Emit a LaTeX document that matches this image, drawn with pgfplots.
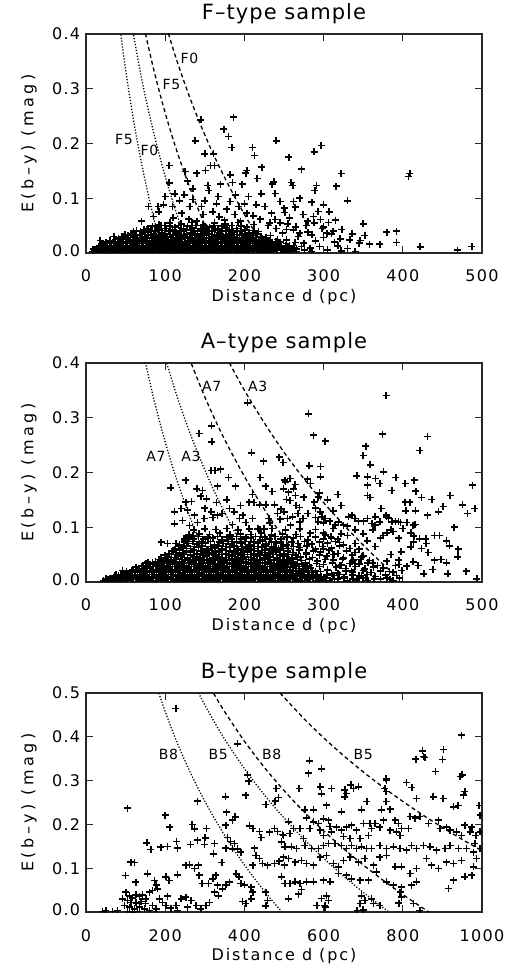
\documentclass[border=0pt]{standalone}
\usepackage{fontspec}
\setmainfont{DejaVu Sans}[LetterSpace=8]
\newfontfamily\xlabfont{DejaVu Sans}[LetterSpace=12]
\newfontfamily\ylabfont{DejaVu Sans}[LetterSpace=22]
\newfontfamily\titfont{DejaVu Sans}[LetterSpace=5]
\usepackage{pgfplots}
\pgfplotsset{compat=1.18}
\newcommand\fs{\fontsize{16}{18}\selectfont}
\newcommand\lo[1]{\raisebox{4pt}{#1}}
\newcommand\hi[1]{\raisebox{-7pt}{#1}}
\tikzset{lab/.style={font=\titfont\fontsize{14}{16}\selectfont, inner sep=0pt}}
\pgfplotsset{
  idl/.style={
    width=396pt, height=219pt, scale only axis,
    xmin=0, ymin=0,
    tick align=inside, major tick length=7pt,
    axis line style={line width=1.3pt, black!85},
    every tick/.style={line width=1.2pt, black!85},
    ticklabel style={font=\fs},
    xticklabel style={anchor=base, yshift=-29pt},
    yticklabel style={anchor=east, xshift=-2.4pt},
    xlabel style={at={(axis description cs:0.5,-0.2237)}, anchor=base, font=\xlabfont\fontsize{16}{18}\selectfont},
    ylabel style={at={(axis description cs:-0.1331,0.5)}, anchor=base, font=\ylabfont\fontsize{16}{18}\selectfont},
    title style={at={(axis description cs:0.5,1.041)}, anchor=base, font=\titfont\fontsize{21}{24}\selectfont},
    xlabel={Distance d (pc)},
    ylabel={E(b–y) (mag)},
    clip marker paths=true,
  },
  pts/.style={only marks, mark=+, mark size=3.5pt, black, line width=1.6pt},
  dotc/.style={no marks, smooth, black, line width=1.3pt, dash pattern=on 1.2pt off 1.8pt},
  dashc/.style={no marks, smooth, black, line width=1.3pt, dash pattern=on 4pt off 3pt},
}
\begin{document}
\begin{tikzpicture}
% ---------------- F-type ----------------
\begin{axis}[idl, at={(0,0)}, anchor=north west,
  xmax=500, ymax=0.4, title={F–type sample},
  xtick={0,100,200,300,400,500}, xticklabels={0,100,200,300,400,500},
  ytick={0,0.1,0.2,0.3,0.4}, yticklabels={\lo{0.0},0.1,0.2,0.3,\hi{0.4}}]
\addplot[dotc] coordinates {(44,0.399)(50,0.335)(60,0.2426)(70,0.1648)(80,0.0973)(90,0.0378)(97,0)};
\addplot[dotc] coordinates {(60,0.398)(70,0.320)(80,0.253)(90,0.1934)(100,0.140)(110,0.0921)(120,0.0481)(132,0)};
\addplot[dashc] coordinates {(75,0.401)(85,0.338)(95,0.282)(105,0.231)(115,0.185)(125,0.1433)(135,0.1044)(145,0.0683)(155,0.0346)(166,0)};
\addplot[dashc] coordinates {(104,0.401)(115,0.350)(130,0.288)(145,0.233)(160,0.183)(175,0.138)(190,0.0965)(205,0.0581)(218,0.027)(230,0)};
\addplot[pts] coordinates {
(8,.003)(13,.005)(18,.002)(23,.004)(28,.003)(33,.005)(38,.002)(43,.004)(48,.003)(53,.005)(58,.002)(63,.004)(68,.003)(73,.005)(78,.002)(83,.004)(88,.003)(93,.005)(98,.002)(103,.004)(108,.003)(113,.005)(118,.002)(123,.004)(128,.003)(133,.005)(138,.002)(143,.004)(148,.003)(153,.005)(158,.002)(163,.004)(168,.003)(173,.005)(178,.002)(183,.004)(188,.003)(193,.005)(198,.002)(204,.004)(210,.003)(216,.005)(222,.002)(228,.004)(235,.003)(242,.005)(250,.002)(258,.004)(266,.003)(276,.005)
(11,.006)(16,.007)(21,.006)(26,.007)(31,.006)(36,.007)(41,.006)(46,.007)(51,.006)(56,.007)(61,.006)(66,.007)(71,.006)(76,.007)(81,.006)(86,.007)(91,.006)(96,.007)(101,.006)(106,.007)(111,.006)(116,.007)(121,.006)(126,.007)(131,.006)(136,.007)(141,.006)(146,.007)(151,.006)(156,.007)(161,.006)(166,.007)(171,.006)(176,.007)(181,.006)(186,.007)(191,.006)(196,.007)(201,.006)(206,.007)(211,.006)(216,.007)(221,.006)(226,.007)(231,.006)(236,.007)(241,.006)(246,.007)(251,.006)(256,.007)(261,.006)(266,.007)
(15,.009)(20,.011)(25,.010)(30,.012)(35,.009)(40,.011)(45,.010)(50,.012)(55,.009)(60,.011)(65,.010)(70,.012)(75,.009)(80,.011)(85,.010)(90,.012)(95,.009)(100,.011)(105,.010)(110,.012)(115,.009)(120,.011)(125,.010)(130,.012)(135,.009)(140,.011)(145,.010)(150,.012)(155,.009)(160,.011)(165,.010)(170,.012)(175,.009)(180,.011)(185,.010)(190,.012)(195,.009)(200,.011)(206,.010)(212,.012)(218,.009)(225,.011)(232,.010)(239,.012)(247,.009)(255,.011)(263,.010)(272,.012)(283,.009)
(17,.013)(22,.014)(27,.013)(32,.014)(37,.013)(42,.014)(47,.013)(52,.014)(57,.013)(62,.014)(67,.013)(72,.014)(77,.013)(82,.014)(87,.013)(92,.014)(97,.013)(102,.014)(107,.013)(112,.014)(117,.013)(122,.014)(127,.013)(132,.014)(137,.013)(142,.014)(147,.013)(152,.014)(157,.013)(162,.014)(167,.013)(172,.014)(177,.013)(182,.014)(187,.013)(192,.014)(197,.013)(202,.014)(207,.013)(212,.014)(217,.013)(222,.014)(227,.013)(232,.014)(237,.013)(242,.014)(247,.013)(252,.014)(257,.013)(262,.014)
(20,.016)(26,.018)(32,.017)(37,.019)(42,.016)(47,.018)(52,.017)(57,.019)(62,.016)(67,.018)(72,.017)(77,.019)(82,.016)(87,.018)(92,.017)(97,.019)(102,.016)(107,.018)(112,.017)(117,.019)(122,.016)(127,.018)(132,.017)(137,.019)(142,.016)(147,.018)(152,.017)(157,.019)(162,.016)(167,.018)(172,.017)(177,.019)(182,.016)(187,.018)(192,.017)(198,.019)(204,.016)(211,.018)(218,.017)(226,.019)(234,.016)(243,.018)(253,.017)(264,.019)
(25,.020)(30,.021)(35,.020)(40,.021)(45,.020)(50,.021)(55,.020)(60,.021)(65,.020)(70,.021)(75,.020)(80,.021)(85,.020)(90,.021)(95,.020)(100,.021)(105,.020)(110,.021)(115,.020)(120,.021)(125,.020)(130,.021)(135,.020)(140,.021)(145,.020)(150,.021)(155,.020)(160,.021)(165,.020)(170,.021)(175,.020)(180,.021)(185,.020)(190,.021)(195,.020)(200,.021)(205,.020)(210,.021)(215,.020)(220,.021)(225,.020)(230,.021)(235,.020)(240,.021)(245,.020)
(30,.023)(37,.025)(44,.024)(50,.026)(56,.023)(62,.025)(68,.024)(74,.026)(80,.023)(86,.025)(92,.024)(98,.026)(104,.023)(110,.025)(116,.024)(122,.026)(128,.023)(134,.025)(140,.024)(146,.026)(152,.023)(158,.025)(164,.024)(170,.026)(176,.023)(182,.025)(188,.024)(194,.026)(200,.023)(207,.025)(215,.024)(223,.026)(232,.023)(242,.025)(253,.024)
(41,.027)(47,.028)(53,.027)(59,.028)(65,.027)(71,.028)(77,.027)(83,.028)(89,.027)(95,.028)(101,.027)(107,.028)(113,.027)(119,.028)(125,.027)(131,.028)(137,.027)(143,.028)(149,.027)(155,.028)(161,.027)(167,.028)(173,.027)(179,.028)(185,.027)(191,.028)(197,.027)(203,.028)(209,.027)(215,.028)(221,.027)(227,.028)
(45,.030)(53,.032)(61,.031)(68,.033)(75,.030)(82,.032)(89,.031)(96,.033)(103,.030)(110,.032)(117,.031)(124,.033)(131,.030)(138,.032)(145,.031)(152,.033)(159,.030)(166,.032)(173,.031)(180,.033)(187,.030)(194,.032)(202,.031)(211,.033)(221,.030)(233,.032)
(49,.034)(57,.035)(64,.034)(71,.035)(78,.034)(85,.035)(92,.034)(99,.035)(106,.034)(113,.035)(120,.034)(127,.035)(134,.034)(141,.035)(148,.034)(155,.035)(162,.034)(169,.035)(176,.034)(183,.035)(190,.034)(197,.035)(206,.034)(216,.035)
(60,.037)(69,.039)(78,.038)(87,.040)(96,.037)(105,.039)(114,.038)(123,.040)(132,.037)(141,.039)(150,.038)(159,.040)(168,.037)(177,.039)(186,.038)(196,.040)(206,.037)(218,.039)
(64,.041)(73,.042)(82,.041)(91,.042)(100,.041)(109,.042)(118,.041)(127,.042)(136,.041)(145,.042)(154,.041)(163,.042)(172,.041)(181,.042)(191,.041)(201,.042)(212,.041)
(78,.044)(90,.046)(101,.045)(112,.047)(123,.044)(134,.046)(145,.045)(156,.047)(167,.044)(178,.046)(190,.045)(203,.047)
(84,.049)(95,.050)(106,.049)(117,.050)(128,.049)(139,.050)(150,.049)(161,.050)(172,.049)(184,.050)(196,.049)
(92,.052)(106,.055)(120,.053)(134,.056)(148,.052)(162,.055)(176,.053)(192,.056)(212,.052)(232,.055)(255,.053)(278,.050)
(285,.003)(295,.012)(305,.006)(314,.020)(322,.004)(300,.028)(290,.022)(275,.018)(268,.030)(280,.038)(262,.042)(248,.036)(240,.045)(310,.035)(318,.013)(330,.008)(340,.003)(345,.018)(298,.045)(288,.055)
(145,.243)(186,.248)(174,.226)(138,.205)(180,.213)(184,.193)(240,.205)(210,.193)(256,.175)(288,.185)(297,.196)(150,.181)(161,.181)(213,.178)(272,.153)(222,.157)(203,.151)(202,.146)(162,.160)(157,.160)(125,.149)(140,.146)(151,.151)(105,.160)(407,.140)(409,.145)(322,.145)(291,.123)(289,.114)(316,.122)(330,.095)(285,.093)(293,.076)(307,.075)(237,.130)(235,.126)(259,.129)(261,.123)(216,.136)(197,.126)(182,.143)(185,.129)(170,.126)(154,.123)(135,.117)(128,.131)(105,.128)(100,.103)(112,.108)(124,.106)(155,.114)(167,.103)(189,.106)(205,.103)(221,.108)(239,.109)(245,.094)(262,.094)(264,.084)(226,.085)(215,.088)(193,.085)(182,.094)(146,.085)(131,.085)(109,.085)(79,.085)(91,.085)(98,.088)
(350,.053)(380,.038)(392,.040)(392,.019)(352,.032)(358,.016)(371,.016)(422,.011)(487,.012)(469,.005)(336,.035)(323,.043)(312,.040)(306,.056)(296,.061)(287,.067)(274,.070)(257,.064)(251,.074)(239,.061)(234,.073)(211,.068)(203,.073)(188,.070)(168,.066)(148,.070)(121,.073)(110,.064)(85,.067)(70,.058)(77,.043)(60,.040)(47,.030)(35,.030)(18,.023)(9,.007)(333,.024)(346,.023)(321,.026)(304,.036)(285,.033)(270,.036)(253,.043)
(130,.062)(140,.058)(160,.075)(175,.060)(195,.058)(220,.062)(230,.050)(245,.055)(265,.048)(280,.058)(300,.048)(315,.060)(118,.095)(135,.098)(178,.080)(200,.090)(250,.082)(270,.100)(300,.088)(120,.045)(100,.050)(92,.075)(150,.095)(165,.090)
};
\node[lab] at (axis cs:130.5,0.356) {F0};
\node[lab] at (axis cs:108,0.307) {F5};
\node[lab] at (axis cs:48,0.207) {F5};
\node[lab] at (axis cs:80,0.187) {F0};
\end{axis}
% ---------------- A-type ----------------
\begin{axis}[idl, at={(0,-329pt)}, anchor=north west,
  xmax=500, ymax=0.4, title={A–type sample},
  xtick={0,100,200,300,400,500}, xticklabels={0,100,200,300,400,500},
  ytick={0,0.1,0.2,0.3,0.4}, yticklabels={\lo{0.0},0.1,0.2,0.3,\hi{0.4}}]
\addplot[dotc] coordinates {(75,0.401)(85,0.338)(95,0.282)(105,0.231)(115,0.185)(125,0.1433)(135,0.1044)(145,0.0683)(155,0.0346)(166,0)};
\addplot[dotc] coordinates {(102,0.3995)(115,0.339)(130,0.277)(145,0.222)(160,0.172)(175,0.127)(190,0.0854)(205,0.047)(225,0)};
\addplot[dashc] coordinates {(133,0.399)(150,0.338)(170,0.275)(190,0.219)(210,0.168)(230,0.122)(250,0.080)(270,0.041)(293,0)};
\addplot[dashc] coordinates {(181,0.4005)(200,0.350)(225,0.291)(250,0.237)(275,0.189)(300,0.145)(325,0.105)(350,0.0674)(375,0.0326)(400,0)};
\addplot[pts] coordinates {
(22,.002)(28,.004)(33,.003)(38,.005)(44,.002)(50,.004)(55,.003)(60,.005)(66,.002)(72,.004)(77,.003)(82,.005)(88,.002)(94,.004)(99,.003)(104,.005)(110,.002)(116,.004)(121,.003)(126,.005)(132,.002)(138,.004)(143,.003)(148,.005)(154,.002)(160,.004)(165,.003)(170,.005)(176,.002)(182,.004)(187,.003)(192,.005)(198,.002)(204,.004)(209,.003)(214,.005)(220,.002)(226,.004)(231,.003)(236,.005)(242,.002)(248,.004)(253,.003)(258,.005)(264,.002)(270,.004)(276,.003)(283,.005)(290,.002)(298,.004)(308,.003)(318,.005)(330,.002)(342,.004)(356,.003)(372,.005)(388,.002)
(25,.006)(30,.007)(36,.006)(41,.007)(47,.006)(52,.007)(58,.006)(63,.007)(69,.006)(74,.007)(80,.006)(85,.007)(91,.006)(96,.007)(102,.006)(107,.007)(113,.006)(118,.007)(124,.006)(129,.007)(135,.006)(140,.007)(146,.006)(151,.007)(157,.006)(162,.007)(168,.006)(173,.007)(179,.006)(184,.007)(190,.006)(195,.007)(201,.006)(206,.007)(212,.006)(217,.007)(223,.006)(228,.007)(234,.006)(239,.007)(245,.006)(250,.007)(256,.006)(261,.007)(267,.006)(273,.007)(280,.006)(287,.007)(294,.006)(303,.007)(314,.006)(325,.007)(337,.006)(350,.007)(364,.006)(380,.007)
(35,.009)(41,.011)(47,.010)(53,.012)(59,.009)(65,.011)(71,.010)(77,.012)(83,.009)(89,.011)(95,.010)(101,.012)(107,.009)(113,.011)(119,.010)(125,.012)(131,.009)(137,.011)(143,.010)(149,.012)(155,.009)(161,.011)(167,.010)(173,.012)(179,.009)(185,.011)(191,.010)(197,.012)(203,.009)(209,.011)(215,.010)(221,.012)(227,.009)(233,.011)(239,.010)(245,.012)(251,.009)(257,.011)(263,.010)(270,.012)(278,.009)(287,.011)(297,.010)(312,.012)(326,.009)(345,.011)(365,.010)(392,.012)
(38,.013)(44,.014)(50,.013)(56,.014)(62,.013)(68,.014)(74,.013)(80,.014)(86,.013)(92,.014)(98,.013)(104,.014)(110,.013)(116,.014)(122,.013)(128,.014)(134,.013)(140,.014)(146,.013)(152,.014)(158,.013)(164,.014)(170,.013)(176,.014)(182,.013)(188,.014)(194,.013)(200,.014)(206,.013)(212,.014)(218,.013)(224,.014)(230,.013)(236,.014)(242,.013)(248,.014)(254,.013)(260,.014)(266,.013)(274,.014)(282,.013)(292,.014)(304,.013)(320,.014)(336,.013)(355,.014)(378,.013)
(48,.016)(55,.018)(62,.017)(68,.019)(74,.016)(80,.018)(86,.017)(92,.019)(98,.016)(104,.018)(110,.017)(116,.019)(122,.016)(128,.018)(134,.017)(140,.019)(146,.016)(152,.018)(158,.017)(164,.019)(170,.016)(176,.018)(182,.017)(188,.019)(194,.016)(200,.018)(206,.017)(212,.019)(218,.016)(224,.018)(230,.017)(236,.019)(242,.016)(248,.018)(254,.017)(261,.019)(268,.016)(276,.018)(285,.017)(296,.019)(318,.016)(337,.018)(360,.017)(383,.019)
(51,.020)(58,.021)(65,.020)(71,.021)(77,.020)(83,.021)(89,.020)(95,.021)(101,.020)(107,.021)(113,.020)(119,.021)(125,.020)(131,.021)(137,.020)(143,.021)(149,.020)(155,.021)(161,.020)(167,.021)(173,.020)(179,.021)(185,.020)(191,.021)(197,.020)(203,.021)(209,.020)(215,.021)(221,.020)(227,.021)(233,.020)(239,.021)(245,.020)(251,.021)(258,.020)(265,.021)(272,.020)(280,.021)(290,.020)(305,.021)(328,.020)(350,.021)(372,.020)
(60,.023)(67,.025)(74,.024)(81,.026)(88,.023)(94,.025)(100,.024)(106,.026)(112,.023)(118,.025)(124,.024)(130,.026)(136,.023)(142,.025)(148,.024)(154,.026)(160,.023)(166,.025)(172,.024)(178,.026)(184,.023)(190,.025)(196,.024)(202,.026)(208,.023)(214,.025)(220,.024)(226,.026)(232,.023)(238,.025)(244,.024)(250,.026)(257,.023)(265,.025)(274,.024)(284,.026)(305,.023)(328,.025)(352,.024)(375,.026)
(63,.027)(70,.028)(77,.027)(84,.028)(91,.027)(97,.028)(103,.027)(109,.028)(115,.027)(121,.028)(127,.027)(133,.028)(139,.027)(145,.028)(151,.027)(157,.028)(163,.027)(169,.028)(175,.027)(181,.028)(187,.027)(193,.028)(199,.027)(205,.028)(211,.027)(217,.028)(223,.027)(229,.028)(235,.027)(241,.028)(247,.027)(253,.028)(261,.027)(269,.028)(279,.027)(295,.028)(316,.027)(340,.028)(363,.027)
(72,.030)(80,.032)(88,.031)(95,.033)(102,.030)(109,.032)(115,.031)(121,.033)(127,.030)(133,.032)(139,.031)(145,.033)(151,.030)(157,.032)(163,.031)(169,.033)(175,.030)(181,.032)(187,.031)(193,.033)(199,.030)(205,.032)(211,.031)(217,.033)(223,.030)(229,.032)(235,.031)(241,.033)(248,.030)(255,.032)(263,.031)(272,.033)(282,.030)(300,.032)(322,.031)(345,.033)(368,.030)(395,.032)
(76,.034)(84,.035)(91,.034)(98,.035)(105,.034)(112,.035)(118,.034)(124,.035)(130,.034)(136,.035)(142,.034)(148,.035)(154,.034)(160,.035)(166,.034)(172,.035)(178,.034)(184,.035)(190,.034)(196,.035)(202,.034)(208,.035)(214,.034)(220,.035)(226,.034)(232,.035)(238,.034)(244,.035)(251,.034)(259,.035)(267,.034)(277,.035)(291,.034)(311,.035)(333,.034)(356,.035)
(88,.037)(96,.039)(104,.038)(111,.040)(118,.037)(125,.039)(132,.038)(139,.040)(146,.037)(153,.039)(160,.038)(167,.040)(174,.037)(181,.039)(188,.038)(195,.040)(202,.037)(209,.039)(216,.038)(223,.040)(230,.037)(237,.039)(245,.038)(253,.040)(262,.037)(272,.039)(292,.038)(312,.040)(336,.037)(358,.039)(380,.038)
(92,.041)(100,.042)(107,.041)(114,.042)(121,.041)(128,.042)(135,.041)(142,.042)(149,.041)(156,.042)(163,.041)(170,.042)(177,.041)(184,.042)(191,.041)(198,.042)(205,.041)(212,.042)(219,.041)(226,.042)(233,.041)(241,.042)(249,.041)(257,.042)(267,.041)(282,.042)(302,.041)(324,.042)(347,.041)
(95,.044)(104,.046)(112,.045)(120,.047)(128,.044)(136,.046)(144,.045)(152,.047)(160,.044)(168,.046)(176,.045)(184,.047)(192,.044)(200,.046)(208,.045)(216,.047)(224,.044)(232,.046)(241,.045)(250,.047)(260,.044)(271,.046)(286,.045)(304,.047)(325,.044)(348,.046)
(100,.049)(108,.050)(116,.049)(124,.050)(132,.049)(140,.050)(148,.049)(156,.050)(164,.049)(172,.050)(180,.049)(188,.050)(196,.049)(204,.050)(212,.049)(220,.050)(228,.049)(236,.050)(245,.049)(255,.050)(265,.049)(278,.050)(295,.049)(314,.050)(336,.049)
(105,.052)(114,.054)(123,.053)(132,.055)(141,.052)(150,.054)(159,.053)(168,.055)(177,.052)(186,.054)(195,.053)(204,.055)(213,.052)(222,.054)(231,.053)(240,.055)(250,.052)(261,.054)(278,.053)(296,.055)(318,.052)(340,.054)
(110,.057)(118,.058)(127,.057)(136,.058)(145,.057)(154,.058)(163,.057)(172,.058)(181,.057)(190,.058)(199,.057)(208,.058)(217,.057)(226,.058)(235,.057)(245,.058)(255,.057)(269,.058)(287,.057)(307,.058)(329,.057)
(112,.060)(122,.062)(132,.061)(142,.063)(152,.060)(162,.062)(172,.061)(182,.063)(192,.060)(202,.062)(212,.061)(222,.063)(232,.060)(243,.062)(255,.061)(270,.063)(290,.060)(310,.062)(333,.061)
(117,.065)(127,.066)(137,.065)(147,.066)(157,.065)(167,.066)(177,.065)(187,.066)(197,.065)(207,.066)(217,.065)(227,.066)(237,.065)(249,.066)(262,.065)(279,.066)(299,.065)(320,.066)
(118,.068)(129,.070)(140,.069)(151,.071)(162,.068)(173,.070)(184,.069)(195,.071)(206,.068)(217,.070)(228,.069)(240,.071)(253,.068)(268,.070)(285,.069)(305,.071)(325,.068)
(124,.073)(135,.074)(146,.073)(157,.074)(168,.073)(179,.074)(190,.073)(201,.074)(212,.073)(223,.074)(234,.073)(246,.074)(260,.073)(276,.074)(295,.073)(315,.074)
(124,.077)(136,.079)(148,.078)(160,.080)(172,.077)(184,.079)(196,.078)(208,.080)(220,.077)(232,.079)(246,.078)(262,.080)(280,.077)(300,.079)(318,.078)
(130,.082)(142,.083)(154,.082)(166,.083)(178,.082)(190,.083)(202,.082)(214,.083)(226,.082)(239,.083)(254,.082)(271,.083)(290,.082)(309,.083)
(130,.086)(143,.088)(156,.087)(169,.089)(182,.086)(195,.088)(208,.087)(221,.089)(234,.086)(248,.088)(265,.087)(283,.089)(302,.086)(322,.088)
(136,.095)(150,.097)(164,.096)(178,.098)(192,.095)(206,.097)(220,.096)(235,.098)(252,.095)(270,.097)(290,.096)(312,.098)
(204,.327)(378.8,.341)(280.7,.307)(287,.268)(301.8,.257)(374.6,.270)(431.4,.266)(421.7,.240)(353.5,.248)(350,.231)(358.6,.214)(375.4,.201)(341.8,.194)(355.2,.192)(365.7,.189)(371.2,.180)(355.2,.177)(391.4,.191)(402.8,.180)(414.5,.186)(386,.167)(416.3,.166)(423.8,.154)(436.5,.151)(459.6,.158)(487.8,.177)(475.6,.141)(481.9,.125)(491,.134)(355.2,.158)(358.9,.154)(402.8,.146)(409,.146)(403.7,.130)(416,.130)(431,.122)(445,.128)(451,.138)(372.5,.134)(378.8,.122)(382,.117)(364.9,.119)(391,.111)(397,.109)(405,.109)(415.5,.105)(414,.084)(421,.079)(429,.079)(446.5,.085)(459,.066)(429.6,.070)(423.5,.061)(432,.054)(440,.040)(448.5,.041)(469.5,.046)(457,.015)(426.4,.015)(438,.023)(493.5,.006)(396,.007)(384,.005)(364,.006)(353.5,.008)(398.7,.021)(405,.029)(391,.030)(413,.037)(419.5,.030)(398,.055)(410,.064)(413.5,.073)
(158.7,.285)(143,.271)(159,.256)(209,.236)(224,.221)(244,.228)(249,.218)(158,.204)(163,.204)(170,.206)(126,.186)(107,.172)(180,.191)(189,.175)(220,.191)(227,.175)(252,.183)(140,.170)(147,.167)(166,.175)(145,.157)(152,.152)(126,.146)(133,.147)(206,.146)(212,.145)(219,.141)(227,.141)(238,.141)(246,.133)(111.5,.128)(120,.134)(128,.131)(137,.122)(111.5,.106)(122,.112)(130.5,.103)(141,.109)(149,.116)(158,.128)(166,.122)(181,.134)(187,.128)(194,.116)(202,.109)(210,.116)(217,.097)(225,.097)(231,.116)(242,.125)(94.7,.073)(103,.070)(113.6,.070)(124,.079)(135,.085)(78,.036)(84,.034)(92.6,.031)(46,.021)(36,.012)(29.5,.006)
(251,.186)(257.6,.189)(264,.178)(249.5,.170)(255.9,.164)(253,.151)(257.6,.149)(264.6,.158)(265.4,.140)(269.6,.136)(281.6,.212)(296.3,.211)(279.5,.188)(296.3,.192)(283.7,.180)(295,.163)(293,.155)(288,.146)(267.5,.125)(274,.116)(260.7,.119)(254.4,.116)(250,.128)
(295.5,.128)(297.6,.119)(293.3,.110)(301.8,.116)(308,.111)(314.4,.104)(318.6,.110)(325,.104)(331.3,.119)(335.5,.122)(339.7,.116)(344,.111)(350.3,.111)(355.3,.116)(360.8,.107)(365,.104)(371.2,.110)(379.6,.119)(386,.110)(394.4,.110)(405,.109)(413,.104)
(160,.118)(172,.125)(185,.105)(198,.122)(232,.108)(245,.115)(258,.104)(270,.110)(280,.125)(290,.118)(300,.108)(312,.130)(322,.140)(330,.102)(340,.095)(350,.088)(362,.095)(375,.085)(388,.092)(400,.098)(410,.090)(150,.135)(165,.145)(178,.150)(195,.140)(210,.160)(235,.165)(262,.170)(275,.155)(290,.135)(305,.150)(318,.160)
(300,.090)(310,.080)(320,.072)(330,.085)(340,.070)(345,.060)(355,.075)(365,.065)(372,.080)(380,.090)(385,.050)(395,.040)(300,.060)(312,.050)(325,.045)(338,.040)(350,.048)(362,.035)(375,.025)(388,.018)(320,.030)(335,.020)(348,.012)(310,.015)(440,.085)(455,.075)(470,.060)(480,.020)(455,.035)(465,.100)(385,.095)(395,.080)
};
\node[lab] at (axis cs:158.7,0.357) {A7};
\node[lab] at (axis cs:216.8,0.357) {A3};
\node[lab] at (axis cs:88.4,0.23) {A7};
\node[lab] at (axis cs:132.6,0.23) {A3};
\end{axis}
% ---------------- B-type ----------------
\begin{axis}[idl, at={(0,-659pt)}, anchor=north west,
  xmax=1000, ymax=0.5, title={B–type sample},
  xtick={0,200,400,600,800,1000}, xticklabels={0,200,400,600,800,1000},
  ytick={0,0.1,0.2,0.3,0.4,0.5}, yticklabels={\lo{0.0},0.1,0.2,0.3,0.4,\hi{0.5}}]
\addplot[dotc] coordinates {(184,0.4996)(200,0.4577)(225,0.398)(250,0.345)(275,0.297)(300,0.253)(330,0.2048)(360,0.1608)(390,0.1204)(420,0.083)(450,0.0481)(475,0.0208)(495,0)};
\addplot[dotc] coordinates {(284,0.5005)(300,0.4727)(330,0.4245)(360,0.3807)(400,0.3275)(440,0.2793)(480,0.2354)(520,0.195)(560,0.1576)(600,0.1227)(650,0.0823)(700,0.0449)(740,0.0168)(765,0)};
\addplot[dashc] coordinates {(322,0.4996)(350,0.4575)(400,0.390)(450,0.3306)(500,0.2774)(550,0.2292)(600,0.1853)(650,0.1449)(700,0.1075)(750,0.0727)(800,0.040)(840,0.0154)(866,0)};
\addplot[dashc] coordinates {(490,0.500)(550,0.4418)(600,0.3978)(650,0.3574)(700,0.3199)(750,0.2851)(800,0.2524)(850,0.2219)(900,0.193)(950,0.1657)(1000,0.1398)};
\addplot[pts] coordinates {
(227,.465)(383,.384)(408,.313)(411,.299)(404,.267)(352,.263)(282,.253)(480,.282)(486.5,.261)(478,.253)(454.5,.245)(105,.237)(199.5,.221)(212,.194)(268,.200)(273.6,.190)(304.7,.191)(355,.228)(370,.210)(377,.217)(353.5,.198)(412.5,.197)(421,.191)(437.7,.184)(442,.170)(463,.182)(475.6,.191)(484,.184)(496.6,.177)(154,.158)(164,.143)(189,.148)(206,.150)(229,.161)(231.5,.146)(263.5,.154)(282,.164)(301,.169)(299,.154)(324,.156)(321.5,.133)(357.7,.170)(364.5,.161)(374.6,.156)(353.5,.146)(370,.144)(383,.144)(391.4,.137)(425,.146)(429,.129)(437.7,.122)(421,.107)(446,.111)(458.8,.107)(475.6,.111)(488,.116)(500.8,.107)(113.6,.114)(122,.113)(99.3,.083)(126,.068)(155.7,.087)(172.6,.072)(176.8,.062)(202,.080)(210,.072)(231.5,.085)(252.5,.107)(261,.108)(283.7,.107)(273.6,.099)(286,.084)(293,.065)(309.8,.065)(320,.076)(328,.084)(332.5,.061)(343,.113)(353.5,.062)(362,.068)(378.8,.087)(387,.080)(391.4,.065)(400,.062)(324,.045)(335,.037)(345,.053)(416.7,.057)(421,.045)(416.7,.030)(454.5,.045)(458.8,.026)(454.5,.014)(395.6,.024)(404,.019)
(109.4,.037)(117.8,.032)(126.3,.039)(134.7,.036)(143.1,.039)(151.5,.030)(113.6,.022)(126.3,.021)(138.9,.024)(149.8,.019)(109.4,.011)(122,.007)(134.7,.011)(147.3,.007)(160,.003)(105.2,.001)(117.8,0)(130.5,.001)(168.4,.015)(176.8,.007)(193.6,.022)(206.2,.036)(214.6,.009)(227.3,.015)(239.9,.030)(252.5,.034)(265.2,.026)(277.8,.015)(290.4,.007)(303,.015)(311.4,.022)(168.4,.049)(181,.053)(160,.045)(185.2,.030)(202,.015)(256.7,.011)(231.5,.003)(50.5,.003)(42.1,.001)(67.3,.001)(80,.003)(96.8,.015)(92.6,.030)(101,.045)(105.2,.026)
(948.7,.404)(850,.368)(852,.355)(833.3,.349)(856,.353)(902.4,.371)(900,.348)(883,.321)(944.5,.309)(950,.313)(957,.275)(953,.267)(564,.345)(561.5,.317)(595,.327)(669,.290)(675,.282)(688,.286)(654,.279)(658,.271)(654,.263)(757.6,.305)(759,.301)(755,.282)(757.6,.275)(809.8,.296)(822.5,.284)(835,.259)(877,.263)(902,.259)(927.6,.240)(940,.243)(993,.243)(995,.221)(538,.282)(591,.286)(595,.270)(620.4,.282)(607.7,.244)(645.6,.229)(696,.233)(709,.252)(746.6,.233)(767.7,.235)(757.6,.252)(553,.233)(574,.233)(557,.215)(574,.206)(565.6,.191)(586.7,.202)(599.3,.213)(612,.210)(616,.195)(620.4,.183)(599.3,.175)(591,.187)(511,.206)(523.6,.191)(498.3,.175)(515,.179)(540.4,.191)(548.8,.168)
(633,.194)(645.6,.187)(658.3,.194)(670.9,.198)(683.5,.187)(700.3,.202)(717.2,.202)(729.8,.202)(721.4,.191)(649.8,.172)(666.7,.168)(692,.168)(713,.175)(750.8,.210)(742.4,.194)(767.7,.187)(780.3,.210)(788.7,.202)(784.5,.183)(793,.175)(797.1,.191)(814,.191)(818.2,.218)(830.8,.214)(843.4,.218)(864.5,.202)(889.7,.210)(894,.191)(910.8,.194)(919.2,.187)(936,.183)(957,.198)(974,.194)(969.7,.183)(984.8,.175)(995,.183)(948.7,.175)
(494.1,.160)(502.5,.149)(519.4,.149)(532,.145)(553,.152)(569.9,.145)(586.7,.145)(599.3,.152)(612,.156)(628.8,.156)(645.6,.152)(658.3,.145)(670.9,.152)(683.5,.145)(696.1,.149)(708.7,.145)(721.4,.145)(742.4,.152)(759.3,.145)(776.1,.149)(793,.145)(809.8,.141)(822.4,.152)(835,.145)(851.9,.152)(868.7,.149)(885.5,.141)(906.6,.145)(919.2,.152)(940.2,.145)(961.3,.145)(978.1,.137)(995,.145)(982.3,.156)
(498.3,.125)(510.9,.122)(527.8,.114)(544.6,.118)(557.2,.111)(574,.107)(591,.125)(607.7,.129)(624.6,.111)(637.2,.103)(649.8,.118)(666.7,.125)(687.7,.114)(704.5,.122)(725.6,.107)(742.4,.125)(759.3,.129)(780.3,.103)(797.1,.103)(818.2,.088)(835,.099)(860.3,.122)(872.9,.107)(889.7,.099)(910.8,.114)(927.6,.111)(948.7,.118)(978.1,.103)(986.5,.122)
(494.1,.080)(502.5,.065)(515.2,.065)(527.8,.069)(540.4,.065)(557.2,.069)(574,.069)(599.3,.073)(616.2,.069)(637.2,.088)(658.3,.084)(670.9,.076)(692,.073)(713,.073)(734,.092)(759.3,.069)(776.1,.061)(797.1,.057)(822.4,.061)(835,.069)(915,.054)(927.6,.073)(957,.080)(974,.084)
(510.9,.030)(536.2,.041)(544.6,.051)(607.7,.037)(612,.026)(603.5,.015)(696.1,.037)(704.5,.026)(692,.019)(721.4,.030)(725.6,.019)(742.4,.015)(793,.045)(797.1,.034)(826.6,.019)(843.4,.003)
(595,.031)(604,.011)(583,.015)(700,.005)(685,.003)(790,.020)
};
\node[lab] at (axis cs:208,0.359) {B8};
\node[lab] at (axis cs:334,0.359) {B5};
\node[lab] at (axis cs:469,0.359) {B8};
\node[lab] at (axis cs:700,0.359) {B5};
\end{axis}
\pgfresetboundingbox
\path[use as bounding box] (-86pt,34pt) rectangle (432pt,-939pt);
\end{tikzpicture}
\end{document}
